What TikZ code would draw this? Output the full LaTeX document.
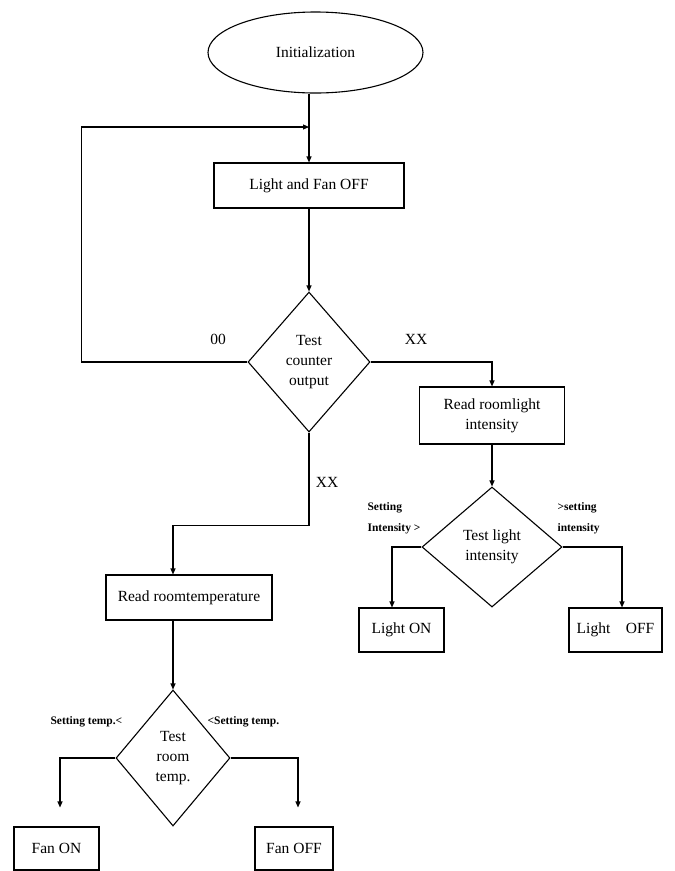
\documentclass[tikz,border=0pt]{standalone}
\usepackage{fontspec}
\setmainfont{Liberation Serif}
\usetikzlibrary{shapes.geometric,arrows.meta}

\tikzset{
  startnode/.style={draw, ellipse, inner sep=0pt, minimum width=215pt, minimum height=81pt},
  procbox/.style={draw, rectangle, align=center, inner sep=0pt},
  testnode/.style={draw, diamond, align=center, inner sep=0pt},
  cond/.style={font=\fontsize{11.5}{21}\selectfont\bfseries, align=left, inner sep=0pt, anchor=west}
}

\begin{document}
\begin{tikzpicture}[x=1pt, y=-1pt, line width=1.1pt, >={Triangle[length=6pt,width=5pt]}, font=\fontsize{15.5}{20}\selectfont]
\useasboundingbox (0,0) rectangle (675,871);

\node [startnode] (init) at (315.5,52.5) {Initialization};
\node [procbox, minimum width=190pt, minimum height=45pt] (b1) at (309,185.5) {Light and Fan OFF};
\node [testnode, minimum width=122pt, minimum height=140pt] (d1) at (309,362) {Test\\counter\\output};
\node [procbox, minimum width=145pt, minimum height=57pt] (b2) at (492,415.5) {Read roomlight\\intensity};
\node [testnode, minimum width=140pt, minimum height=120pt] (d2) at (492,547) {Test light\\intensity};
\node [procbox, minimum width=85pt, minimum height=44pt] (lon) at (401.5,630) {Light ON};
\node [procbox, minimum width=93pt, minimum height=44pt] (loff) at (615.5,630) {Light\quad OFF};
\node [procbox, minimum width=166pt, minimum height=45pt] (b3) at (189,597.5) {Read roomtemperature};
\node [testnode, minimum width=114pt, minimum height=136pt] (d3) at (173,758) {Test\\room\\temp.};
\node [procbox, minimum width=85pt, minimum height=43pt] (fon) at (56.5,848.5) {Fan ON};
\node [procbox, minimum width=78pt, minimum height=43pt] (foff) at (294,848.5) {Fan OFF};

\node (l00) at (218,339) {00};
\node (lxx1) at (416,339) {XX};
\node (lxx2) at (327,482) {XX};
\node [cond] (lsi) at (367,518) {Setting\\Intensity >};
\node [cond] (lsr) at (557,518) {>setting\\intensity};
\node [cond] (lst1) at (50,722) {Setting temp.<};
\node [cond] (lst2) at (207,722) {<Setting temp.};

\coordinate (join) at (309,127);
\draw [->] (init.south -| b1.north) -- (b1.north);
\draw [->] (d1.west) -- ++(-166,0) |- (join);
\draw [->] (b1) -- (d1);
\draw [->] (d1.east) -| (b2.north);
\draw [->] (b2) -- (d2);
\draw [->] (d1.south) -- ++(0,93) -| (b3.north -| d3.north);
\draw [->] (b3.south -| d3.north) -- (d3.north);
\draw [->] (d2.west) -| ([xshift=-9.5pt]lon.north);
\draw [->] (d2.east) -| ([xshift=6.5pt]loff.north);
\draw [->, shorten >=19pt] (d3.west) -| ([xshift=3.5pt]fon.north);
\draw [->, shorten >=19pt] (d3.east) -| ([xshift=4pt]foff.north);

\end{tikzpicture}
\end{document}
